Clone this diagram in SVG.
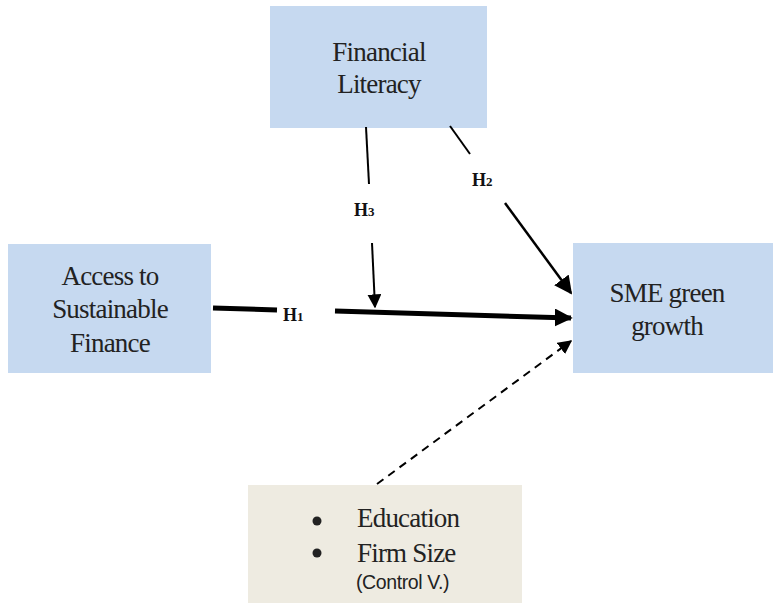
<svg xmlns="http://www.w3.org/2000/svg" width="774" height="604" viewBox="0 0 774 604">
<defs>
<style>
.box{fill:#c6d9f0;}
.ctrl{fill:#eeebe1;}
.t{font-family:"Liberation Serif","Times New Roman",serif;font-size:27px;letter-spacing:-0.8px;fill:#222;text-anchor:middle;}
.ts{font-family:"Liberation Serif","Times New Roman",serif;font-size:27px;letter-spacing:-0.8px;fill:#222;}
.c{font-family:"Liberation Sans",Arial,sans-serif;font-size:19.5px;letter-spacing:-0.4px;fill:#222;}
.h{font-family:"Liberation Serif","Times New Roman",serif;font-weight:bold;font-size:18px;fill:#111;}
.ln{stroke:#000;fill:none;}
</style>
<marker id="ah2" viewBox="0 0 10 10" refX="9" refY="5" markerWidth="14" markerHeight="14" markerUnits="userSpaceOnUse" orient="auto">
<path d="M0,0 L10,5 L0,10 z" fill="#000"/>
</marker>
<marker id="ah3" viewBox="0 0 10 10" refX="9" refY="5" markerWidth="18" markerHeight="18" markerUnits="userSpaceOnUse" orient="auto">
<path d="M0,0 L10,5 L0,10 z" fill="#000"/>
</marker>
</defs>
<g id="financial-literacy">
<rect class="box" x="270" y="6" width="217" height="122"/>
<text class="t" x="379" y="61">Financial</text>
<text class="t" x="379" y="93">Literacy</text>
</g>
<g id="access">
<rect class="box" x="8" y="244" width="203" height="129"/>
<text class="t" x="110" y="285">Access to</text>
<text class="t" x="110" y="318">Sustainable</text>
<text class="t" x="110" y="352">Finance</text>
</g>
<g id="sme">
<rect class="box" x="573" y="243" width="200" height="130"/>
<text class="t" x="667" y="302">SME green</text>
<text class="t" x="667" y="335">growth</text>
</g>
<g id="control">
<rect class="ctrl" x="248" y="485" width="274" height="118"/>
<circle cx="317" cy="521" r="4.5" fill="#222"/>
<circle cx="317" cy="553" r="4.5" fill="#222"/>
<text class="ts" x="357" y="527">Education</text>
<text class="ts" x="357" y="562">Firm Size</text>
<text class="c" x="356" y="589">(Control V.)</text>
</g>
<g id="connectors">
<line class="ln" x1="213" y1="308" x2="277" y2="310" stroke-width="5"/>
<line class="ln" x1="335" y1="311" x2="571" y2="318" stroke-width="5" marker-end="url(#ah3)"/>
<line class="ln" x1="366" y1="127" x2="369" y2="184" stroke-width="2"/>
<line class="ln" x1="372" y1="243" x2="375" y2="307" stroke-width="2" marker-end="url(#ah2)"/>
<line class="ln" x1="450" y1="126" x2="470" y2="154" stroke-width="2"/>
<line class="ln" x1="505" y1="203" x2="571" y2="293" stroke-width="2.5" marker-end="url(#ah3)"/>
<line class="ln" x1="377" y1="484" x2="571" y2="341" stroke-width="2" stroke-dasharray="8,6" marker-end="url(#ah2)"/>
<text class="h" x="283" y="321">H<tspan font-size="13">1</tspan></text>
<text class="h" x="354" y="216">H<tspan font-size="13">3</tspan></text>
<text class="h" x="472" y="186">H<tspan font-size="13">2</tspan></text>
</g>
</svg>
